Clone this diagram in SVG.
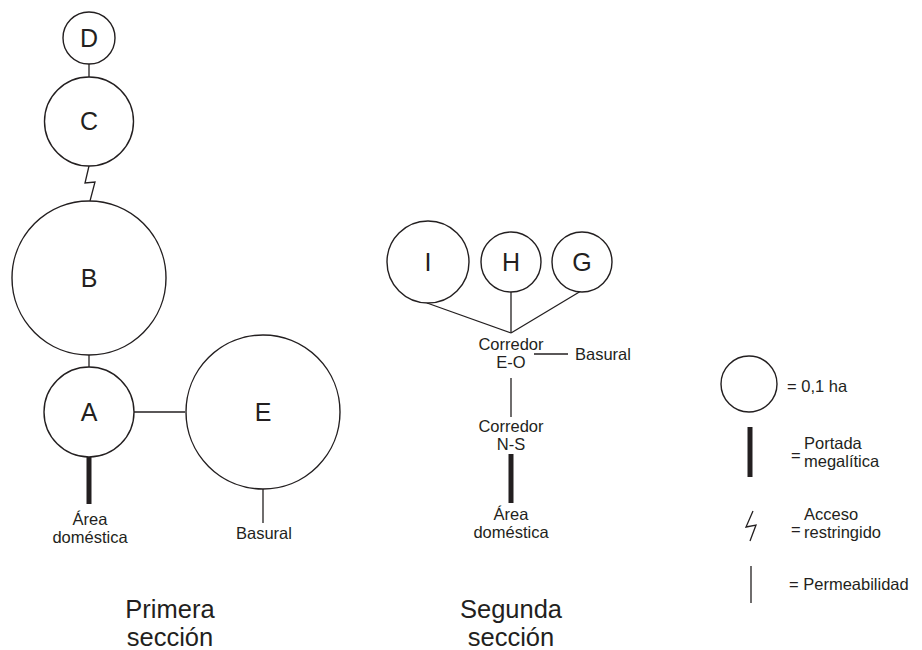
<svg xmlns="http://www.w3.org/2000/svg" width="922" height="650" viewBox="0 0 922 650">
<style>
.c{fill:#fff;stroke:#231f20;stroke-width:1.4}
.ln{stroke:#231f20;stroke-width:1.3;fill:none}
.thick{stroke:#231f20;stroke-width:5;fill:none}
.L{font-family:"Liberation Sans",Arial,sans-serif;font-size:25px;fill:#231f20;text-anchor:middle}
.t{font-family:"Liberation Sans",Arial,sans-serif;font-size:16.5px;fill:#231f20;text-anchor:middle}
.ts{font-family:"Liberation Sans",Arial,sans-serif;font-size:16.5px;fill:#231f20}
.h{font-family:"Liberation Sans",Arial,sans-serif;font-size:25.5px;fill:#231f20;text-anchor:middle}
</style>
<rect width="922" height="650" fill="#fff"/>
<g id="connectors">
<line class="ln" x1="89" y1="64" x2="89" y2="77"/>
<polyline class="ln" points="89,166 85,183 95,182 90,201"/>
<line class="ln" x1="89" y1="355" x2="89" y2="367"/>
<line class="ln" x1="134" y1="412" x2="185" y2="412"/>
<line class="thick" x1="89" y1="457" x2="89" y2="504"/>
<line class="ln" x1="263" y1="489" x2="263" y2="523"/>
<line class="ln" x1="427" y1="303" x2="511" y2="333"/>
<line class="ln" x1="511" y1="292" x2="511" y2="333"/>
<line class="ln" x1="581" y1="291" x2="511" y2="333"/>
<line class="ln" x1="534" y1="354" x2="568" y2="354"/>
<line class="ln" x1="511" y1="378" x2="511" y2="417"/>
<line class="thick" x1="511" y1="454" x2="511" y2="503"/>
</g>
<g id="node-D"><circle class="c" cx="89" cy="38" r="26"/><text class="L" x="89" y="47">D</text></g>
<g id="node-C"><circle class="c" cx="89" cy="121.5" r="44.5"/><text class="L" x="89" y="130">C</text></g>
<g id="node-B"><circle class="c" cx="89" cy="278" r="77"/><text class="L" x="89" y="287">B</text></g>
<g id="node-A"><circle class="c" cx="89" cy="412" r="45"/><text class="L" x="89" y="421">A</text></g>
<g id="node-E"><circle class="c" cx="263" cy="412" r="77"/><text class="L" x="263" y="421">E</text></g>
<g id="label-area1"><text class="t" x="90" y="525">Área</text><text class="t" x="90" y="543">doméstica</text></g>
<g id="label-basural1"><text class="t" x="264" y="539">Basural</text></g>
<g id="node-I"><circle class="c" cx="428" cy="262" r="41"/><text class="L" x="428" y="271">I</text></g>
<g id="node-H"><circle class="c" cx="511" cy="262" r="30"/><text class="L" x="511" y="271">H</text></g>
<g id="node-G"><circle class="c" cx="582" cy="262" r="30"/><text class="L" x="582" y="271">G</text></g>
<g id="label-corredorEO"><text class="t" x="511" y="350">Corredor</text><text class="t" x="511" y="368">E-O</text></g>
<g id="label-basural2"><text class="ts" x="575" y="360">Basural</text></g>
<g id="label-corredorNS"><text class="t" x="511" y="432">Corredor</text><text class="t" x="511" y="450">N-S</text></g>
<g id="label-area2"><text class="t" x="511" y="520">Área</text><text class="t" x="511" y="538">doméstica</text></g>
<g id="titles">
<text class="h" x="170" y="618">Primera</text><text class="h" x="170" y="646">sección</text>
<text class="h" x="511" y="618">Segunda</text><text class="h" x="511" y="646">sección</text>
</g>
<g id="legend">
<circle class="c" cx="749" cy="384" r="28"/>
<text class="ts" x="787" y="392">= 0,1 ha</text>
<line class="thick" x1="750" y1="427" x2="750" y2="477"/>
<text class="ts" x="791" y="461">=</text>
<text class="ts" x="804" y="449">Portada</text>
<text class="ts" x="804" y="467">megalítica</text>
<polyline class="ln" points="753,511 746,527 756,525 750,541"/>
<text class="ts" x="791" y="535">=</text>
<text class="ts" x="804" y="520">Acceso</text>
<text class="ts" x="804" y="538">restringido</text>
<line class="ln" x1="751" y1="566" x2="751" y2="603"/>
<text class="ts" x="789" y="590">= Permeabilidad</text>
</g>
</svg>
